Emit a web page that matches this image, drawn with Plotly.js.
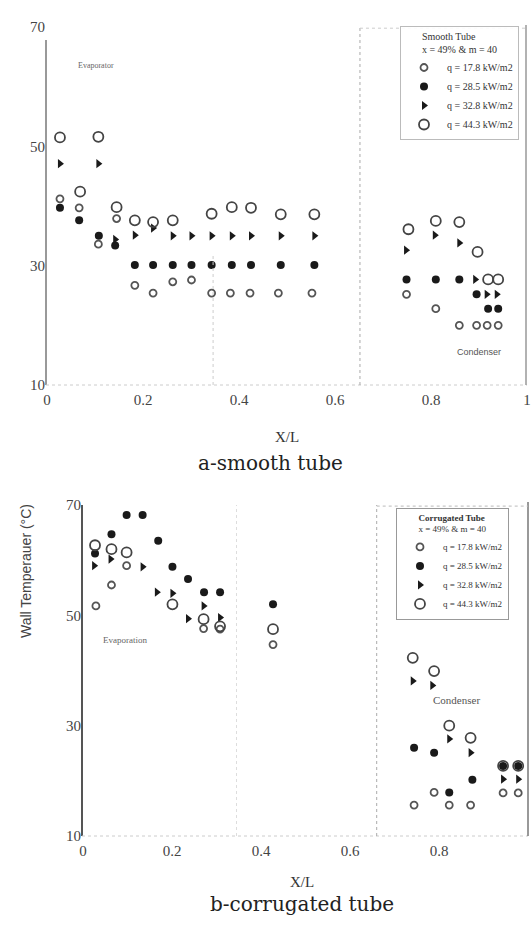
<!DOCTYPE html>
<html><head><meta charset="utf-8">
<script src="https://cdn.plot.ly/plotly-3.0.1.min.js"></script>
<style>html,body{margin:0;padding:0;background:#fff}#c{width:531px;height:932px}</style>
</head><body><div id="c"></div>
<script>
// ---------- a-smooth tube ----------
const seriesNames = ["q = 17.8 kW/m2", "q = 28.5 kW/m2", "q = 32.8 kW/m2", "q = 44.3 kW/m2"];

const smoothX_q17 = [0.027, 0.067, 0.107, 0.145, 0.183, 0.221, 0.262, 0.301, 0.343, 0.382, 0.423, 0.482, 0.552, 0.749, 0.810, 0.859, 0.895, 0.917, 0.940];
const smoothY_q17 = [41.2, 39.7, 33.6, 37.9, 26.7, 25.4, 27.3, 27.6, 25.4, 25.4, 25.4, 25.4, 25.4, 25.2, 22.8, 20.0, 20.0, 20.0, 20.0];

const smoothX_q28 = [0.027, 0.067, 0.108, 0.142, 0.183, 0.221, 0.262, 0.301, 0.343, 0.385, 0.425, 0.487, 0.557, 0.749, 0.810, 0.859, 0.895, 0.919, 0.940];
const smoothY_q28 = [39.7, 37.6, 35.0, 33.4, 30.1, 30.1, 30.1, 30.1, 30.1, 30.1, 30.1, 30.1, 30.1, 27.7, 27.7, 27.7, 25.2, 22.8, 22.8];

const smoothX_q32 = [0.027, 0.107, 0.142, 0.183, 0.221, 0.262, 0.301, 0.343, 0.385, 0.425, 0.487, 0.557, 0.748, 0.808, 0.859, 0.892, 0.916, 0.937];
const smoothY_q32 = [47.1, 47.1, 34.4, 35.1, 36.3, 35.0, 35.0, 35.0, 35.0, 35.0, 35.0, 35.0, 32.6, 35.1, 33.8, 27.7, 25.2, 25.2];

const smoothX_q44 = [0.027, 0.069, 0.107, 0.145, 0.183, 0.221, 0.262, 0.343, 0.385, 0.425, 0.487, 0.557, 0.753, 0.810, 0.859, 0.897, 0.919, 0.940];
const smoothY_q44 = [51.5, 42.4, 51.6, 39.8, 37.6, 37.3, 37.6, 38.7, 39.8, 39.7, 38.6, 38.6, 36.1, 37.5, 37.3, 32.3, 27.7, 27.7];

// ---------- b-corrugated tube ----------
const corrX_q17 = [0.029, 0.064, 0.098, 0.271, 0.308, 0.427, 0.744, 0.789, 0.823, 0.871, 0.944, 0.978];
const corrY_q17 = [51.7, 55.5, 59.0, 47.6, 47.5, 44.7, 15.6, 17.9, 15.6, 15.6, 17.8, 17.8];

const corrX_q28 = [0.027, 0.064, 0.098, 0.134, 0.169, 0.201, 0.236, 0.272, 0.308, 0.427, 0.744, 0.789, 0.823, 0.875, 0.944, 0.978];
const corrY_q28 = [61.2, 64.7, 68.2, 68.2, 63.5, 58.8, 56.6, 54.2, 54.2, 52.0, 26.0, 25.1, 17.9, 20.2, 22.7, 22.7];

const corrX_q32 = [0.025, 0.062, 0.134, 0.166, 0.201, 0.236, 0.271, 0.308, 0.741, 0.785, 0.823, 0.871, 0.944, 0.978];
const corrY_q32 = [59.0, 60.2, 58.8, 54.2, 54.0, 49.4, 51.7, 49.6, 38.1, 37.3, 27.6, 25.1, 20.3, 20.3];

const corrX_q44 = [0.027, 0.064, 0.098, 0.201, 0.271, 0.308, 0.427, 0.741, 0.789, 0.823, 0.871, 0.944, 0.978];
const corrY_q44 = [62.7, 62.0, 61.4, 52.0, 49.3, 48.0, 47.5, 42.3, 39.9, 30.0, 27.8, 22.7, 22.7];

const xTickVals = [0, 0.2, 0.4, 0.6, 0.8, 1];
const xTickText = ["0", "0.2", "0.4", "0.6", "0.8", "1"];
const yTickVals = [10, 30, 50, 70];
const yTickText = ["10", "30", "50", "70"];

const ink = "#1a1a1a";
const styles = [
  {symbol: "circle-open", size: 7, color: "#555", line: {width: 1.8}},
  {symbol: "circle", size: 8, color: ink},
  {symbol: "triangle-right", size: 8, color: ink},
  {symbol: "circle-open", size: 10, color: "#444", line: {width: 1.8}}
];

function mk(x, y, i, xa, ya, leg) {
  const s = styles[i];
  return {type: "scatter", mode: "markers", x: x, y: y, xaxis: xa, yaxis: ya, name: seriesNames[i],
    legend: leg, showlegend: true,
    marker: {symbol: s.symbol, size: s.size, color: s.color, line: {color: s.color, width: s.line ? s.line.width : 0}}};
}

const data = [
  mk(smoothX_q17, smoothY_q17, 0, "x", "y", "legend"),
  mk(smoothX_q28, smoothY_q28, 1, "x", "y", "legend"),
  mk(smoothX_q32, smoothY_q32, 2, "x", "y", "legend"),
  mk(smoothX_q44, smoothY_q44, 3, "x", "y", "legend"),
  mk(corrX_q17, corrY_q17, 0, "x2", "y2", "legend2"),
  mk(corrX_q28, corrY_q28, 1, "x2", "y2", "legend2"),
  mk(corrX_q32, corrY_q32, 2, "x2", "y2", "legend2"),
  mk(corrX_q44, corrY_q44, 3, "x2", "y2", "legend2")
];

const tickFont = {family: "Liberation Serif, DejaVu Serif, serif", size: 15, color: "#444"};
function xax(dom, anchor) {
  return {domain: dom, anchor: anchor, range: [0, 1], tickvals: xTickVals, ticktext: xTickText,
    showgrid: false, zeroline: false, showline: false, ticklabelstandoff: 4,
    ticks: "", tickfont: tickFont};
}
function yax(dom, anchor) {
  return {domain: dom, anchor: anchor, range: [10, 70], tickvals: yTickVals, ticktext: yTickText,
    showgrid: false, zeroline: false, showline: false, ticklabelstandoff: 1,
    ticks: "", tickfont: tickFont};
}

const W = 531, H = 932;
const legFont = {family: "Liberation Serif, serif", size: 10, color: "#333"};
const layout = {
  width: W, height: H, margin: {l: 0, r: 0, t: 0, b: 0},
  paper_bgcolor: "#fff", plot_bgcolor: "#fff",
  xaxis: xax([47 / W, 527 / W], "y"),
  yaxis: yax([1 - 385 / H, 1 - 27 / H], "x"),
  xaxis2: xax([83 / W, 528 / W], "y2"),
  yaxis2: yax([1 - 836 / H, 1 - 505 / H], "x2"),
  legend: {x: 400 / W, y: 1 - 26 / H, xanchor: "left", yanchor: "top", bgcolor: "rgba(255,255,255,0.9)",
    bordercolor: "#bbb", borderwidth: 1, font: legFont,
    title: {text: "Smooth Tube<br>x = 49% & m = 40", font: legFont, side: "top center"},
    itemwidth: 36, tracegroupgap: 8},
  legend2: {x: 396 / W, y: 1 - 508 / H, xanchor: "left", yanchor: "top", bgcolor: "rgba(255,255,255,0.9)",
    bordercolor: "#999", borderwidth: 1, font: {family: "Liberation Serif, serif", size: 9, color: "#333"},
    title: {text: "<b>Corrugated Tube</b><br>x = 49% & m = 40", font: {family: "Liberation Serif, serif", size: 9, color: "#333"}, side: "top center"},
    itemwidth: 36, tracegroupgap: 4},
  shapes: [
    // axis frames (paper coordinates so they are not clipped)
    {type: "line", layer: "above", xref: "paper", yref: "paper", x0: 46 / W, x1: 46 / W, y0: 1 - 385 / H, y1: 1 - 40 / H, line: {color: "#777", width: 1.5}},
    {type: "line", layer: "above", xref: "paper", yref: "paper", x0: 46 / W, x1: 527 / W, y0: 1 - 385 / H, y1: 1 - 385 / H, line: {color: "#ccc", width: 1, dash: "dot"}},
    {type: "line", layer: "above", xref: "paper", yref: "paper", x0: 526 / W, x1: 526 / W, y0: 1 - 385 / H, y1: 1 - 25 / H, line: {color: "#999", width: 1.5}},
    {type: "line", layer: "above", xref: "paper", yref: "paper", x0: 82 / W, x1: 82 / W, y0: 1 - 836 / H, y1: 1 - 505 / H, line: {color: "#555", width: 2}},
    {type: "line", layer: "above", xref: "paper", yref: "paper", x0: 82 / W, x1: 528 / W, y0: 1 - 836 / H, y1: 1 - 836 / H, line: {color: "#ccc", width: 1, dash: "dot"}},
    {type: "line", layer: "above", xref: "paper", yref: "paper", x0: 528 / W, x1: 528 / W, y0: 1 - 836 / H, y1: 1 - 502 / H, line: {color: "#777", width: 1.5}},
    // separators
    {type: "line", xref: "x", yref: "y", x0: 0.652, x1: 0.652, y0: 10, y1: 70, line: {color: "#aaa", width: 1, dash: "dot"}},
    {type: "line", xref: "x", yref: "y", x0: 0.346, x1: 0.346, y0: 10, y1: 32, line: {color: "#ccc", width: 1, dash: "dot"}},
    {type: "line", xref: "x", yref: "y", x0: 0.652, x1: 1, y0: 69.8, y1: 69.8, line: {color: "#ccc", width: 1, dash: "dot"}},
    {type: "line", xref: "x2", yref: "y2", x0: 0.66, x1: 0.66, y0: 10, y1: 70, line: {color: "#aaa", width: 1, dash: "dot"}},
    {type: "line", xref: "x2", yref: "y2", x0: 0.345, x1: 0.345, y0: 10, y1: 70, line: {color: "#ddd", width: 1, dash: "dot"}},
    {type: "line", xref: "x2", yref: "y2", x0: 0.66, x1: 1, y0: 69.8, y1: 69.8, line: {color: "#bbb", width: 1, dash: "dot"}}
  ],
  annotations: [
    {xref: "x", yref: "y", x: 0.06, y: 63.5, xanchor: "left", text: "Evaporator", showarrow: false,
      font: {family: "Liberation Serif, serif", size: 8, color: "#666"}},
    {xref: "x", yref: "y", x: 0.9, y: 15.5, text: "Condenser", showarrow: false,
      font: {family: "Liberation Sans, sans-serif", size: 9, color: "#555"}},
    {xref: "paper", yref: "paper", x: 287 / W, y: 1 - 437 / H, text: "X/L", showarrow: false,
      font: {family: "Liberation Serif, serif", size: 15, color: "#333"}},
    {xref: "paper", yref: "paper", x: 270 / W, y: 1 - 463 / H, text: "a-smooth tube", showarrow: false,
      font: {family: "DejaVu Serif, serif", size: 20, color: "#222"}},
    {xref: "x2", yref: "y2", x: 0.04, y: 45.5, xanchor: "left", text: "Evaporation", showarrow: false,
      font: {family: "Liberation Serif, serif", size: 9, color: "#666"}},
    {xref: "x2", yref: "y2", x: 0.84, y: 34.7, text: "Condenser", showarrow: false,
      font: {family: "Liberation Serif, serif", size: 11, color: "#555"}},
    {xref: "paper", yref: "paper", x: 16 / W, y: 1 - 640 / H, text: "Wall Temperauer (°C)", textangle: -90, showarrow: false,
      font: {family: "Liberation Sans, sans-serif", size: 14, color: "#444"}},
    {xref: "paper", yref: "paper", x: 302 / W, y: 1 - 892 / H, text: "X/L", showarrow: false,
      font: {family: "Liberation Serif, serif", size: 15, color: "#333"}},
    {xref: "paper", yref: "paper", x: 302 / W, y: 1 - 918 / H, text: "b-corrugated tube", showarrow: false,
      font: {family: "DejaVu Serif, serif", size: 20, color: "#222"}}
  ]
};

Plotly.newPlot("c", data, layout, {staticPlot: true, displayModeBar: false});
</script></body></html>
